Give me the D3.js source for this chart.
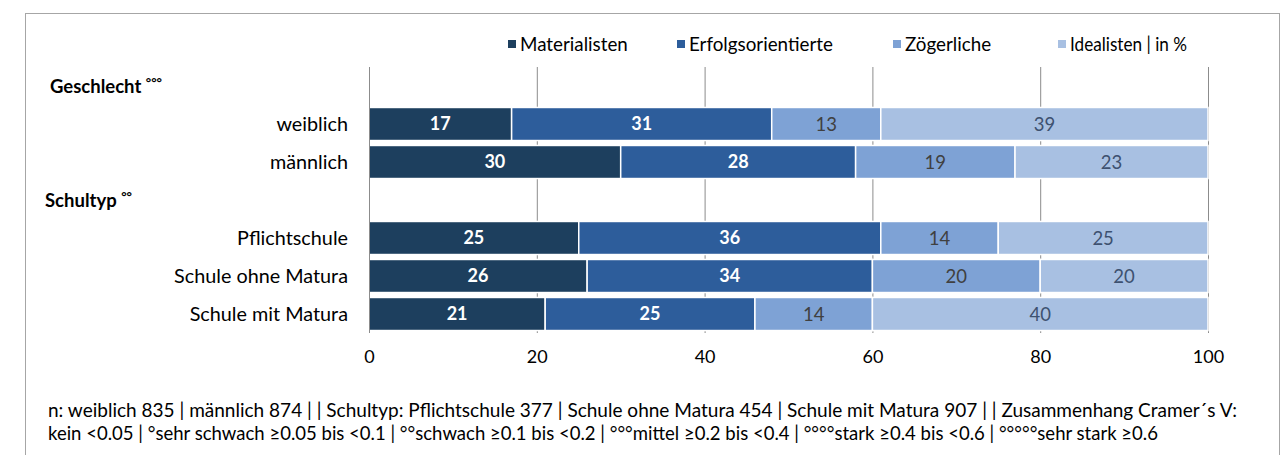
<!DOCTYPE html>
<html><head><meta charset="utf-8">
<script src="https://cdn.jsdelivr.net/npm/d3@7"></script>
<style>
body{margin:0;background:#fff;}
svg text{font-family:Lato,"Open Sans",sans-serif;}
</style></head><body>
<svg id="chart" width="1287" height="455"></svg>
<script>
const rows = ["Geschlecht", "weiblich", "männlich", "Schultyp", "Pflichtschule", "Schule ohne Matura", "Schule mit Matura"];
const groupHeaders = [{row:"Geschlecht", label:"Geschlecht", sup:"°°°"}, {row:"Schultyp", label:"Schultyp", sup:"°°"}];
const categories = ["weiblich", "männlich", "Pflichtschule", "Schule ohne Matura", "Schule mit Matura"];
const seriesNames = ["Materialisten", "Erfolgsorientierte", "Zögerliche", "Idealisten | in %"];
const materialisten = [17, 30, 25, 26, 21];
const erfolgsorientierte = [31, 28, 36, 34, 25];
const zoegerliche = [13, 19, 14, 20, 14];
const idealisten = [39, 23, 25, 20, 40];
const xTicks = [0, 20, 40, 60, 80, 100];
const footnotes = [
 "n: weiblich 835 | männlich 874 | | Schultyp: Pflichtschule 377 | Schule ohne Matura 454 | Schule mit Matura 907 | |  Zusammenhang Cramer´s V:",
 "kein <0.05 | °sehr schwach ≥0.05 bis <0.1 | °°schwach ≥0.1 bis <0.2 | °°°mittel ≥0.2 bis <0.4 | °°°°stark ≥0.4 bis <0.6 | °°°°°sehr stark ≥0.6"
];

const colors = ["#1d3f5e", "#2d5d9b", "#7ea2d5", "#a8c0e2"];
const labelColors = ["#ffffff", "#ffffff", "#404040", "#3d5170"];
const labelWeights = ["bold", "bold", "normal", "normal"];

const svg = d3.select("#chart");
// frame
svg.append("rect").attr("x",25.5).attr("y",13.5).attr("width",1254).attr("height",460)
  .attr("fill","none").attr("stroke","#a6a6a6").attr("stroke-width",1);

const x = d3.scaleLinear().domain([0,100]).range([369,1208]);
const y = d3.scaleBand().domain(rows).range([67,333]).paddingInner(0.13).paddingOuter(0.065);

// gridlines
const grid = svg.append("g");
grid.selectAll("line").data(xTicks.slice(1)).join("line")
  .attr("x1",d=>x(d)+0.5).attr("x2",d=>x(d)+0.5).attr("y1",67).attr("y2",333)
  .attr("stroke","#8c8c8c").attr("stroke-width",1);

// stacked data
const table = categories.map((c,i)=>({cat:c, s0:materialisten[i], s1:erfolgsorientierte[i], s2:zoegerliche[i], s3:idealisten[i]}));
const stack = d3.stack().keys(["s0","s1","s2","s3"])(table);

const layers = svg.append("g").selectAll("g").data(stack).join("g")
  .attr("fill",(d,i)=>colors[i]);
layers.selectAll("rect").data(d=>d).join("rect")
  .attr("x",d=>x(d[0])).attr("width",d=>x(d[1])-x(d[0]))
  .attr("y",d=>y(d.data.cat)).attr("height",y.bandwidth())
  .attr("stroke","#fff").attr("stroke-width",1.5);
layers.selectAll("text").data((d,i)=>d.map(v=>({v, i}))).join("text")
  .attr("x",d=>(x(d.v[0])+x(d.v[1]))/2)
  .attr("y",d=>y(d.v.data.cat)+y.bandwidth()/2)
  .attr("dy","0.36em").attr("text-anchor","middle")
  .attr("font-size",d=>d.i<2?18:18.5).attr("font-weight",d=>labelWeights[d.i])
  .attr("fill",d=>labelColors[d.i])
  .text(d=>d.v[1]-d.v[0]);

// left axis line
svg.append("line").attr("x1",369.5).attr("x2",369.5).attr("y1",67).attr("y2",333)
  .attr("stroke","#8c8c8c").attr("stroke-width",1);

// category labels
svg.append("g").selectAll("text").data(categories).join("text")
  .attr("x",348).attr("y",d=>y(d)+y.bandwidth()/2).attr("dy","0.36em")
  .attr("text-anchor","end").attr("font-size",19.8).attr("fill","#000").text(d=>d);

// group headers
const gh = svg.append("g").selectAll("text").data(groupHeaders).join("text")
  .attr("x",(d,i)=>i===0?50:45).attr("y",d=>y(d.row)+y.bandwidth()/2).attr("dy","0.36em")
  .attr("font-size",18.5).attr("font-weight","bold").attr("fill","#000");
gh.append("tspan").text(d=>d.label+" ");
gh.append("tspan").attr("font-size",13).attr("dy","-0.45em").text(d=>d.sup);

// x axis
const xAxis = svg.append("g").attr("transform","translate(0,333)")
  .call(d3.axisBottom(x).tickValues(xTicks).tickSize(0).tickPadding(17));
xAxis.select(".domain").remove();
xAxis.selectAll("text").attr("font-size",18).attr("fill","#000").style("font-family","Lato");

// legend
const legendX = [508, 677, 893, 1058];
const lg = svg.append("g").selectAll("g").data(seriesNames).join("g")
  .attr("transform",(d,i)=>`translate(${legendX[i]},44)`);
lg.append("rect").attr("x",0).attr("y",-4).attr("width",8).attr("height",8).attr("fill",(d,i)=>colors[i]);
lg.append("text").attr("x",12).attr("dy","0.36em").attr("font-size",18.8).attr("fill","#000").text(d=>d)
  .each(function(d,i){ if(i===3){ d3.select(this).attr("textLength",117).attr("lengthAdjust","spacingAndGlyphs"); } });

// footnotes
const footWidths = [1189, 1110];
svg.append("g").selectAll("text").data(footnotes).join("text")
  .attr("x",48).attr("y",(d,i)=>410+i*23).attr("dy","0.36em")
  .attr("font-size",18.8).attr("fill","#000")
  .attr("textLength",(d,i)=>footWidths[i]).attr("lengthAdjust","spacingAndGlyphs")
  .text(d=>d);
</script>
</body></html>
